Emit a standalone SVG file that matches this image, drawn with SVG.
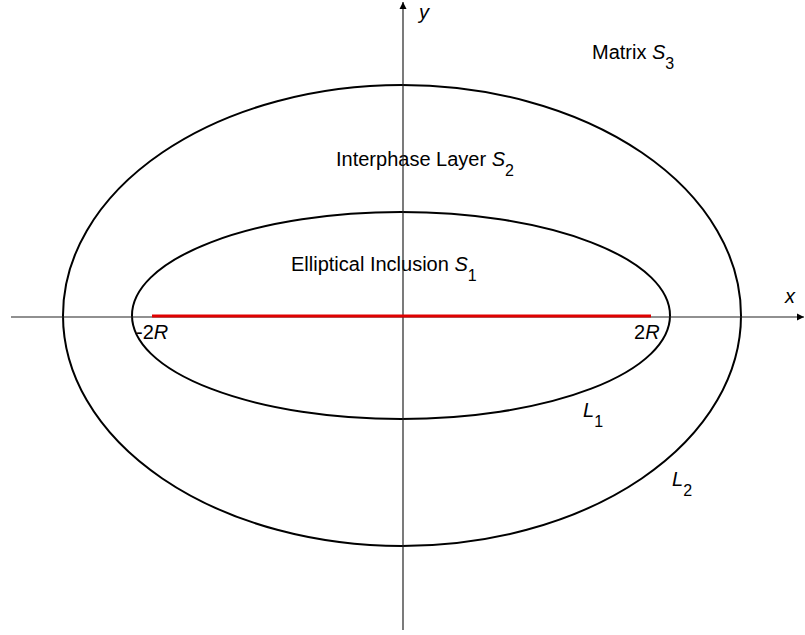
<svg xmlns="http://www.w3.org/2000/svg" width="805" height="635" viewBox="0 0 805 635">
<style>
text{font-family:"Liberation Sans",Arial,sans-serif;font-size:20px;fill:#000}
.it{font-style:italic}
.sub{font-size:16px}
.ell{fill:none;stroke:#000;stroke-width:2}
.axis{fill:none;stroke:#222;stroke-width:1.2}
</style>
<defs>
<marker id="arr" viewBox="0 0 10 10" refX="10" refY="5" markerWidth="7" markerHeight="10" markerUnits="userSpaceOnUse" orient="auto">
<path d="M0,0 L10,5 L0,10 Z" fill="#000"/>
</marker>
</defs>
<rect width="805" height="635" fill="#fff"/>
<g id="matrix">
<text x="592" y="59">Matrix <tspan class="it">S</tspan><tspan class="sub" dy="10">3</tspan></text>
</g>
<g id="interphase">
<ellipse class="ell" cx="402" cy="315.5" rx="339" ry="230.5"/>
<text x="336" y="166">Interphase Layer <tspan class="it">S</tspan><tspan class="sub" dy="10">2</tspan></text>
<text x="672" y="486"><tspan class="it">L</tspan><tspan class="sub" dy="10">2</tspan></text>
</g>
<g id="inclusion">
<ellipse class="ell" cx="401" cy="315.5" rx="269" ry="103.5"/>
<text x="291" y="271">Elliptical Inclusion <tspan class="it">S</tspan><tspan class="sub" dy="10">1</tspan></text>
<text x="583" y="417"><tspan class="it">L</tspan><tspan class="sub" dy="10">1</tspan></text>
</g>
<g id="connectors">
<line class="axis" x1="11" y1="317" x2="804" y2="317" marker-end="url(#arr)"/>
<line class="axis" x1="403" y1="630" x2="403" y2="2" marker-end="url(#arr)"/>
</g>
<g id="crack">
<line x1="152" y1="316" x2="651" y2="316" stroke="#e00000" stroke-width="3"/>
</g>
<g id="labels">
<text class="it" x="419" y="19">y</text>
<text class="it" x="785" y="303">x</text>
<text x="136" y="339">-2<tspan class="it">R</tspan></text>
<text x="634" y="339">2<tspan class="it">R</tspan></text>
</g>
</svg>
